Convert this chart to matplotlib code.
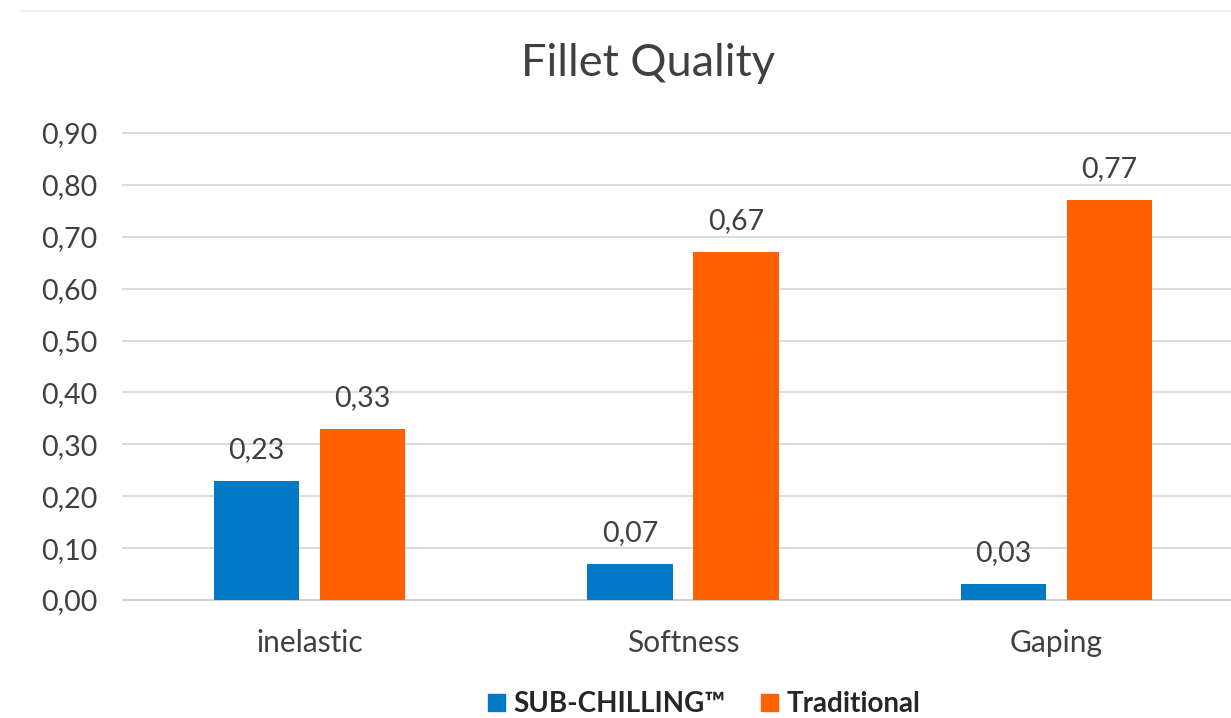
import matplotlib
matplotlib.use("Agg")
import matplotlib.pyplot as plt
from matplotlib.patches import Patch
from matplotlib.lines import Line2D
import numpy as np

categories = ["inelastic", "Softness", "Gaping"]
sub_chilling = [0.23, 0.07, 0.03]
traditional = [0.33, 0.67, 0.77]
series_names = ["SUB-CHILLING\u2122", "Traditional"]
y_ticks = [0.0, 0.1, 0.2, 0.3, 0.4, 0.5, 0.6, 0.7, 0.8, 0.9]

BLUE = "#0079C7"
ORANGE = "#FF6000"
TEXT = "#404040"
GRID = "#D9D9D9"

plt.rcParams["font.family"] = ["Lato", "DejaVu Sans"]

fig = plt.figure(figsize=(12.31, 7.18), dpi=100)
ax = fig.add_axes([0.0999, 0.1643, 0.9001, 0.6505])

x = np.arange(len(categories))
width = 0.228
offset = 0.142

b1 = ax.bar(x - offset, sub_chilling, width, color=BLUE, zorder=3)
b2 = ax.bar(x + offset, traditional, width, color=ORANGE, zorder=3)

def fmt(v):
    return f"{v:.2f}".replace(".", ",")

for bars, vals in ((b1, sub_chilling), (b2, traditional)):
    for rect, v in zip(bars, vals):
        ax.annotate(fmt(v), (rect.get_x() + rect.get_width() / 2, v),
                    xytext=(0, 13), textcoords="offset points",
                    ha="center", va="bottom", fontsize=20.5, color=TEXT)

ax.set_ylim(0, 0.9)
ax.set_xlim(-0.5, 2.468)
ax.set_yticks(y_ticks)
ax.set_yticklabels([fmt(t) for t in y_ticks], fontsize=20.5, color=TEXT)
ax.set_xticks(x)
ax.set_xticklabels(categories, fontsize=21.5, color=TEXT)
ax.tick_params(axis="both", length=0)
ax.tick_params(axis="y", pad=18.5)
ax.tick_params(axis="x", pad=21)

ax.grid(axis="y", color=GRID, linewidth=1.3, zorder=0)
for t in ax.yaxis.get_gridlines():
    t.set_clip_on(False)
for side in ("top", "right", "left"):
    ax.spines[side].set_visible(False)
ax.spines["bottom"].set_color("#CFCFCF")
ax.spines["bottom"].set_linewidth(1.3)

fig.text(0.5265, 0.912, "Fillet Quality", ha="center", va="center",
         fontsize=32.5, color=TEXT)

# faint chart-area border along the top
fig.add_artist(Line2D([0.018, 1.0], [0.985, 0.985], color="#F2F2F2",
                      linewidth=1.5, transform=fig.transFigure))

handles = [Patch(color=BLUE), Patch(color=ORANGE)]
leg = fig.legend(handles, series_names, loc="center", bbox_to_anchor=(0.572, 0.019),
                 ncol=2, frameon=False, fontsize=20, handlelength=0.6,
                 handleheight=0.6, handletextpad=0.3, columnspacing=1.3)
for t in leg.get_texts():
    t.set_color("#262626")
    t.set_fontweight("bold")

fig.savefig("out.png", dpi=100, facecolor="white")
